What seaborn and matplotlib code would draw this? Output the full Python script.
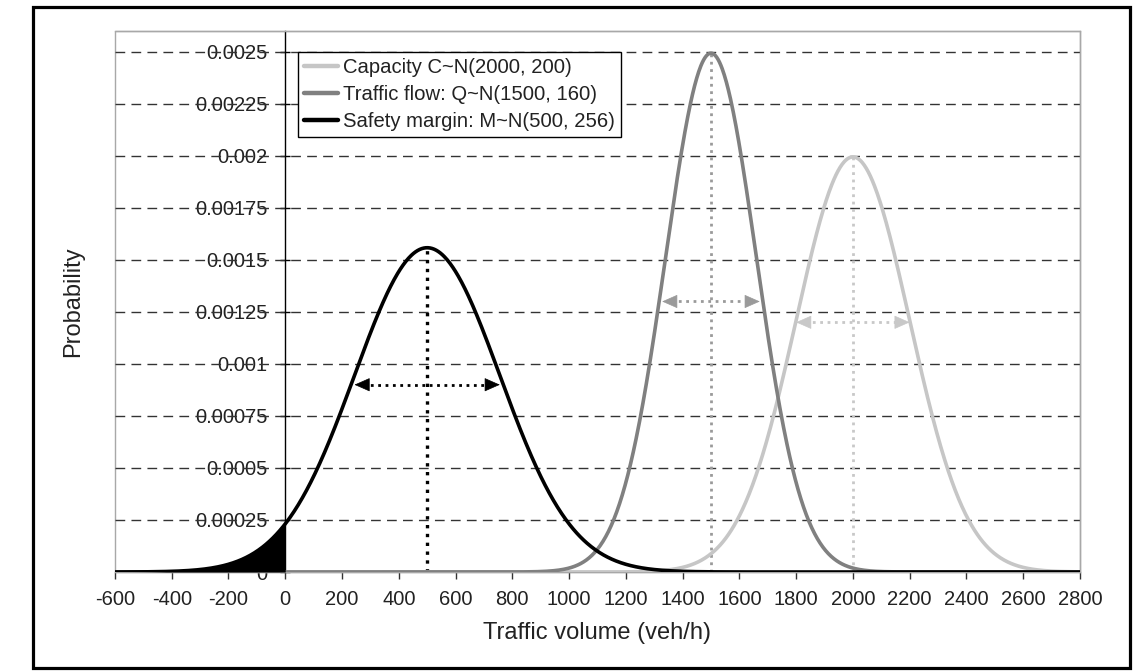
import numpy as np
import pandas as pd
import matplotlib
matplotlib.use("Agg")
import matplotlib.pyplot as plt
from matplotlib.patches import Rectangle
import seaborn as sns

series_names = ["Capacity C~N(2000, 200)", "Traffic flow: Q~N(1500, 160)", "Safety margin: M~N(500, 256)"]
means = [2000, 1500, 500]
sds = [200, 160, 256]
arrow_heights = [0.0012, 0.0013, 0.0009]
arrow_half_widths = [200, 172, 256]
x_ticks = [-600, -400, -200, 0, 200, 400, 600, 800, 1000, 1200, 1400, 1600, 1800, 2000, 2200, 2400, 2600, 2800]
y_ticks = [0, 0.00025, 0.0005, 0.00075, 0.001, 0.00125, 0.0015, 0.00175, 0.002, 0.00225, 0.0025]
y_tick_labels = ["0", "0.00025", "0.0005", "0.00075", "0.001", "0.00125", "0.0015", "0.00175", "0.002", "0.00225", "0.0025"]

# ---- style ----
line_colors = ["#c6c6c6", "#808080", "#000000"]
mark_colors = ["#c8c8c8", "#9a9a9a", "#000000"]

sns.set_style("white")
plt.rcParams["font.family"] = ["Liberation Sans", "DejaVu Sans"]

fig = plt.figure(figsize=(11.44, 6.72), dpi=100)
ax = fig.add_axes([0.1005, 0.1488, 0.8435, 0.8051])

xs = np.linspace(-600, 2800, 1401)
frames = []
for name, m, s in zip(series_names, means, sds):
    pdf = np.exp(-0.5 * ((xs - m) / s) ** 2) / (s * np.sqrt(2 * np.pi))
    frames.append(pd.DataFrame({"x": xs, "p": pdf, "series": name}))
df = pd.concat(frames, ignore_index=True)

sns.lineplot(data=df, x="x", y="p", hue="series", hue_order=series_names,
             palette=dict(zip(series_names, line_colors)), linewidth=2.6,
             ax=ax, zorder=3, legend=True)

# shaded tail of the safety margin below 0
dm = df[(df["series"] == series_names[2]) & (df["x"] <= 0)]
ax.fill_between(dm["x"], 0, dm["p"], color="black", zorder=3, linewidth=0)

# mean lines and arrows
for name, m, s, h, w, c in zip(series_names, means, sds, arrow_heights, arrow_half_widths, mark_colors):
    peak = 1.0 / (s * np.sqrt(2 * np.pi))
    lw = 2.4 if c == "#000000" else 2.0
    ax.plot([m, m], [0, peak], linestyle=":", color=c, linewidth=lw, zorder=2.8)
    ax.plot([m - w + 30, m + w - 30], [h, h], linestyle=":", color=c, linewidth=2.0, zorder=2.8)
    for end, start in ((m - w, m - w + 35), (m + w, m + w - 35)):
        ax.annotate("", xy=(end, h), xytext=(start, h),
                    arrowprops=dict(arrowstyle="-|>,head_length=0.5,head_width=0.22",
                                    color=c, lw=0.5, shrinkA=0, shrinkB=0,
                                    mutation_scale=20), zorder=2.9)

# dashed grid lines drawn over tick labels
for yv in y_ticks[1:]:
    ax.axhline(yv, color="#333333", linestyle=(0, (7, 4.5)), linewidth=1.0, zorder=2)

ax.set_xlim(-600, 2800)
ax.set_ylim(0, 0.0026)
ax.set_xticks(x_ticks)
ax.set_xticklabels([str(v) for v in x_ticks])
ax.set_yticks(y_ticks)
ax.set_yticklabels(y_tick_labels)

ax.tick_params(axis="x", direction="out", length=5, width=1, color="#333333",
               labelsize=14.5, labelcolor="#222222", pad=8, bottom=True)
ax.tick_params(axis="y", direction="inout", length=7, width=1, color="#000000",
               labelsize=14.5, labelcolor="#222222", pad=9.5, left=True)

for side in ("top", "right", "bottom"):
    ax.spines[side].set_color("#a8a8a8")
    ax.spines[side].set_linewidth(1.0)
    ax.spines[side].set_visible(True)
ax.spines["left"].set_position(("data", 0))
ax.spines["left"].set_color("black")
ax.spines["left"].set_linewidth(1.0)
ax.add_patch(Rectangle((0, 0), 1, 1, transform=ax.transAxes, fill=False,
                       edgecolor="#a8a8a8", linewidth=1.0, clip_on=False, zorder=1))

ax.set_xlabel("Traffic volume (veh/h)", fontsize=17, color="#222222")
ax.set_ylabel("Probability", fontsize=17, color="#222222")
ax.xaxis.set_label_coords(0.5, -0.093)
ax.yaxis.set_label_coords(-0.032, 0.5)

handles, labels = ax.get_legend_handles_labels()
for hnd in handles:
    hnd.set_linewidth(3.2)
leg = ax.legend(handles, labels, loc="upper left", bbox_to_anchor=(0.1896, 0.961),
                frameon=True, fancybox=False, fontsize=14.6, borderpad=0.3,
                labelspacing=0.4, handlelength=1.7, handletextpad=0.22,
                borderaxespad=0.0, title=None)
leg.get_frame().set_edgecolor("black")
leg.get_frame().set_linewidth(1.0)
leg.get_frame().set_alpha(1)
leg.set_zorder(6)
for t in leg.get_texts():
    t.set_color("#222222")

# outer frame around the whole figure
fig.patches.append(Rectangle((0.0288, 0.006), 0.959, 0.9836, transform=fig.transFigure,
                             fill=False, edgecolor="black", linewidth=2.3, zorder=10))

fig.savefig("out.png", dpi=100)
